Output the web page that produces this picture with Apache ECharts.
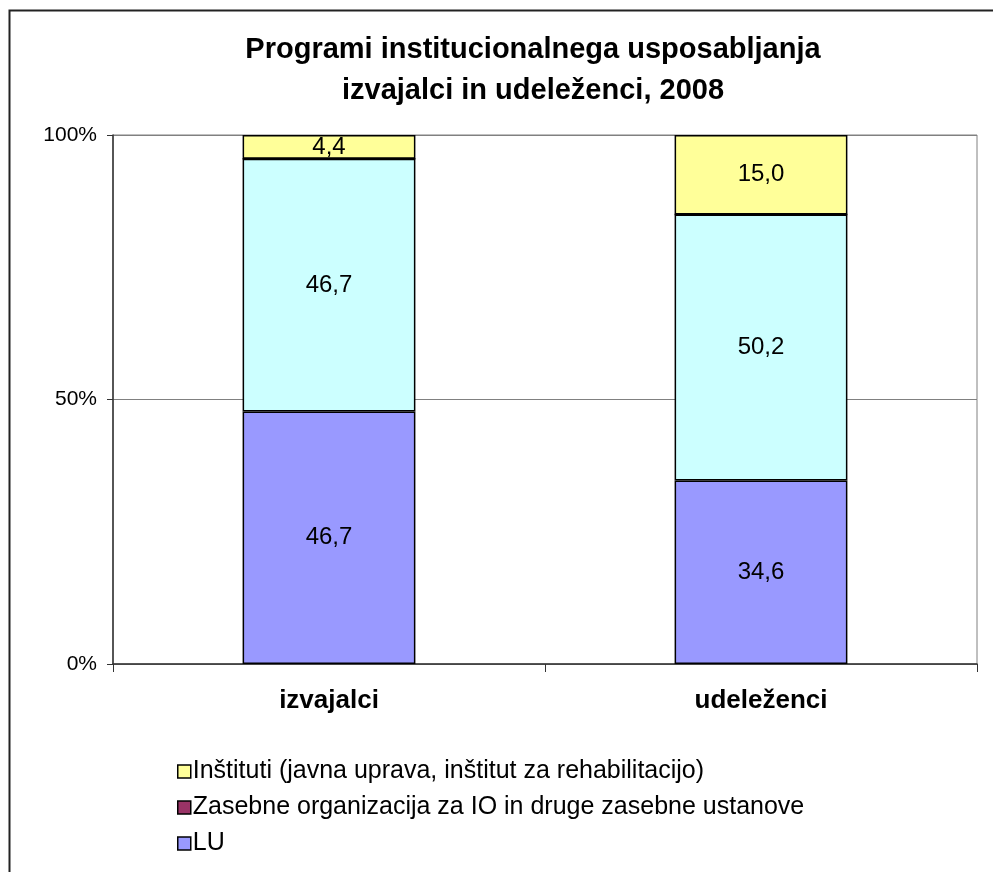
<!DOCTYPE html>
<html>
<head>
<meta charset="utf-8">
<script src="https://cdn.jsdelivr.net/npm/echarts@6/dist/echarts.min.js"></script>
<style>html,body{margin:0;padding:0;background:#fff}#c{width:993px;height:872px}</style>
</head>
<body>
<div id="c"></div>
<script>
const categories = ['izvajalci', 'udeleženci'];
const luValues = [46.7, 34.6];
const otherValues = [46.7, 50.2];
const zasebneValues = [0, 0];
const institutiValues = [4.4, 15.0];
const yTicks = ['0%', '50%', '100%'];

const seriesDefs = [
  { name: 'LU', values: luValues, color: '#9999FF' },
  { name: 'Drugo', values: otherValues, color: '#CCFFFF' },
  { name: 'Zasebne organizacija za IO in druge zasebne ustanove', values: zasebneValues, color: '#993366' },
  { name: 'Inštituti (javna uprava, inštitut za rehabilitacijo)', values: institutiValues, color: '#FFFF99' }
];
const totals = categories.map((_, i) => seriesDefs.reduce((s, d) => s + d.values[i], 0));

const font = 'Liberation Sans, Arial, sans-serif';
const chart = echarts.init(document.getElementById('c'), null, { renderer: 'canvas' });
chart.setOption({
  animation: false,
  backgroundColor: '#fff',
  title: {
    text: 'Programi institucionalnega usposabljanja\nizvajalci in udeleženci, 2008',
    left: 528, top: 24, textAlign: 'center',
    textStyle: { fontFamily: font, fontSize: 29, fontWeight: 'bold', color: '#000', lineHeight: 41 }
  },
  graphic: [{
    type: 'rect', left: 7, top: 8, shape: { width: 1100, height: 1000 },
    style: { fill: 'none', stroke: '#222', lineWidth: 2 }, silent: true, z: 10
  }],
  legend: {
    orient: 'vertical', left: 172, top: 754,
    itemWidth: 13, itemHeight: 13, itemGap: 11,
    data: [
      { name: seriesDefs[3].name },
      { name: seriesDefs[2].name },
      { name: seriesDefs[0].name }
    ],
    textStyle: { fontFamily: font, fontSize: 25, lineHeight: 25, color: '#000', padding: [0, 0, 0, -3] },
    itemStyle: { borderColor: '#000', borderWidth: 1.5 },
    icon: 'rect'
  },
  grid: {
    left: 113, top: 135, right: 16, bottom: 208,
    show: true, borderColor: '#808080', borderWidth: 1
  },
  xAxis: {
    type: 'category', data: categories,
    axisLine: { lineStyle: { color: '#333', width: 1.5 } },
    axisTick: { show: true, length: 8, lineStyle: { color: '#333' } },
    axisLabel: { fontFamily: font, fontSize: 26, fontWeight: 'bold', color: '#000', margin: 24 }
  },
  yAxis: {
    type: 'value', min: 0, max: 100, interval: 50,
    axisLine: { show: true, lineStyle: { color: '#333', width: 1.5 } },
    axisTick: { show: true, length: 6, lineStyle: { color: '#333' } },
    axisLabel: {
      fontFamily: font, fontSize: 21, color: '#000', margin: 16,
      formatter: v => yTicks[Math.round(v / 50)]
    },
    splitLine: { lineStyle: { color: '#808080', width: 1 } }
  },
  series: seriesDefs.map(d => ({
    name: d.name, type: 'bar', stack: 'total', barWidth: '40%',
    data: d.values.map((v, i) => ({ value: v / totals[i] * 100, raw: v })),
    itemStyle: { color: d.color, borderColor: '#000', borderWidth: 1.5 },
    label: {
      show: true, position: 'inside', fontFamily: font, fontSize: 24, color: '#000',
      formatter: p => p.data.raw ? p.data.raw.toFixed(1).replace('.', ',') : ''
    }
  }))
});
</script>
</body>
</html>
